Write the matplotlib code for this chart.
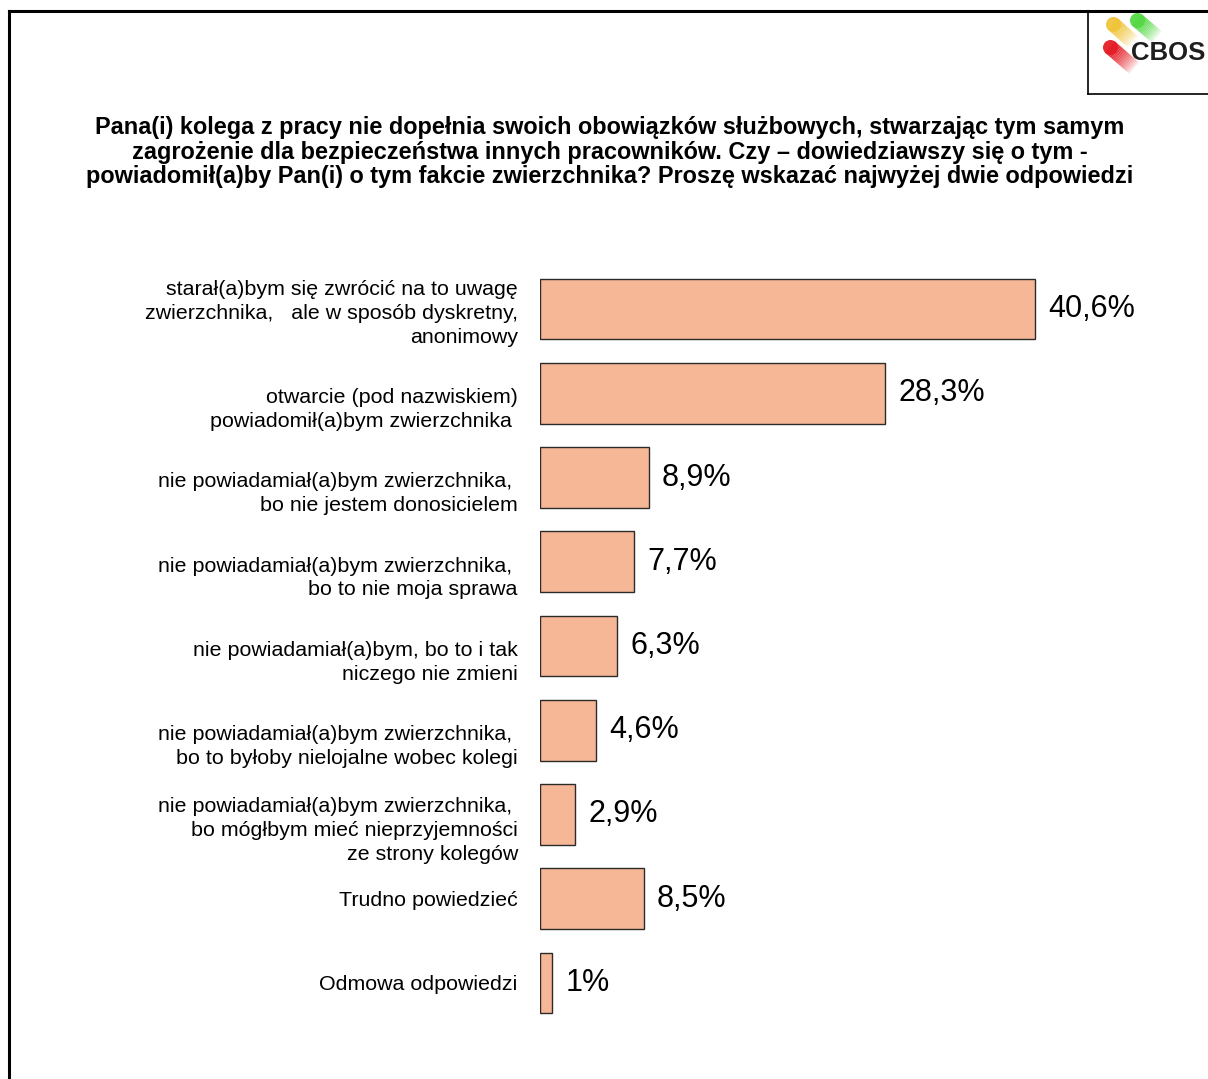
import matplotlib
matplotlib.use("Agg")
import matplotlib.pyplot as plt
from matplotlib.lines import Line2D

categories = [
    "starał(a)bym się zwrócić na to uwagę\nzwierzchnika,   ale w sposób dyskretny,\nanonimowy",
    "\notwarcie (pod nazwiskiem)\npowiadomił(a)bym zwierzchnika ",
    "\nnie powiadamiał(a)bym zwierzchnika, \nbo nie jestem donosicielem",
    "\nnie powiadamiał(a)bym zwierzchnika, \nbo to nie moja sprawa",
    "\nnie powiadamiał(a)bym, bo to i tak\nniczego nie zmieni",
    "\nnie powiadamiał(a)bym zwierzchnika, \nbo to byłoby nielojalne wobec kolegi",
    "\nnie powiadamiał(a)bym zwierzchnika, \nbo mógłbym mieć nieprzyjemności\nze strony kolegów",
    "Trudno powiedzieć",
    "Odmowa odpowiedzi",
]
values = [40.6, 28.3, 8.9, 7.7, 6.3, 4.6, 2.9, 8.5, 1.0]
value_labels = ["40,6%", "28,3%", "8,9%", "7,7%", "6,3%", "4,6%", "2,9%", "8,5%", "1%"]

title = ("Pana(i) kolega z pracy nie dopełnia swoich obowiązków służbowych, stwarzając tym samym\n"
         "zagrożenie dla bezpieczeństwa innych pracowników. Czy – dowiedziawszy się o tym -\n"
         "powiadomił(a)by Pan(i) o tym fakcie zwierzchnika? Proszę wskazać najwyżej dwie odpowiedzi")

plt.rcParams['font.family'] = ['Liberation Sans', 'DejaVu Sans']

W, H = 1208, 1079
fig = plt.figure(figsize=(W / 100, H / 100), dpi=100)
fig.patch.set_facecolor("white")

# axes geometry in pixels
ax_left_px = 540
ax_right_px = 1208
ax_top_px = 267
ax_bot_px = 1025
ax = fig.add_axes([ax_left_px / W, 1 - ax_bot_px / H,
                   (ax_right_px - ax_left_px) / W, (ax_bot_px - ax_top_px) / H])
px_per_unit = (1035 - 540) / 40.6
ax.set_xlim(0, (ax_right_px - ax_left_px) / px_per_unit)
ax.set_ylim(len(values) - 0.5, -0.5)

ypos = list(range(len(values)))
ax.barh(ypos, values, height=0.72, color="#F5B795", edgecolor="#2b2b2b", linewidth=1.0)

for y, v, lab in zip(ypos, values, value_labels):
    ax.annotate(lab, xy=(v, y), xytext=(9.5, 0), textcoords="offset points",
                ha="left", va="center", fontsize=22, color="black")

ax.set_yticks(ypos)
ax.set_yticklabels(categories, fontsize=15.4, color="black", linespacing=1.32)
ax.tick_params(axis="y", length=0, pad=16)
ax.set_xticks([])
for s in ax.spines.values():
    s.set_visible(False)

fig.text(0.505, 1 - 152 / H, title, ha="center", va="center", fontsize=16.9,
         fontweight="bold", linespacing=1.1)

# outer border (left and top)
fig.add_artist(Line2D([9 / W, 9 / W], [0, 1 - 11 / H], color="black", lw=2.2,
                      transform=fig.transFigure, solid_capstyle="projecting"))
fig.add_artist(Line2D([9 / W, 1], [1 - 11 / H, 1 - 11 / H], color="black", lw=2.2,
                      transform=fig.transFigure, solid_capstyle="projecting"))
# logo box
fig.add_artist(Line2D([1088 / W, 1088 / W], [1 - 11 / H, 1 - 94 / H], color="black", lw=1.2,
                      transform=fig.transFigure))
fig.add_artist(Line2D([1088 / W, 1], [1 - 94 / H, 1 - 94 / H], color="black", lw=1.2,
                      transform=fig.transFigure))


def pill(x0, y0, x1, y1, color, width_px):
    n = 16
    lw = width_px * 0.72
    for i in range(n):
        t0 = i / n
        t1 = (i + 1) / n
        a = 0.95 * (1 - t0 ** 1.6) + 0.02
        fig.add_artist(Line2D([(x0 + (x1 - x0) * t0) / W, (x0 + (x1 - x0) * t1) / W],
                              [1 - (y0 + (y1 - y0) * t0) / H, 1 - (y0 + (y1 - y0) * t1) / H],
                              color=color, lw=lw, alpha=a, solid_capstyle="butt",
                              transform=fig.transFigure))
    fig.add_artist(Line2D([x0 / W], [1 - y0 / H], marker="o", markersize=lw,
                          color=color, alpha=0.95, markeredgewidth=0,
                          transform=fig.transFigure))


pill(1113, 24, 1133, 42, "#F0C43A", 15)
pill(1137, 20, 1157, 37, "#55D845", 15)
pill(1110, 47, 1134, 68, "#E41E26", 15)

fig.text(1168 / W, 1 - 53 / H, "CBOS", ha="center", va="center", fontsize=18.5,
         fontweight="bold", color="#1e1e1e")

fig.savefig("out.png", dpi=100, facecolor="white")
